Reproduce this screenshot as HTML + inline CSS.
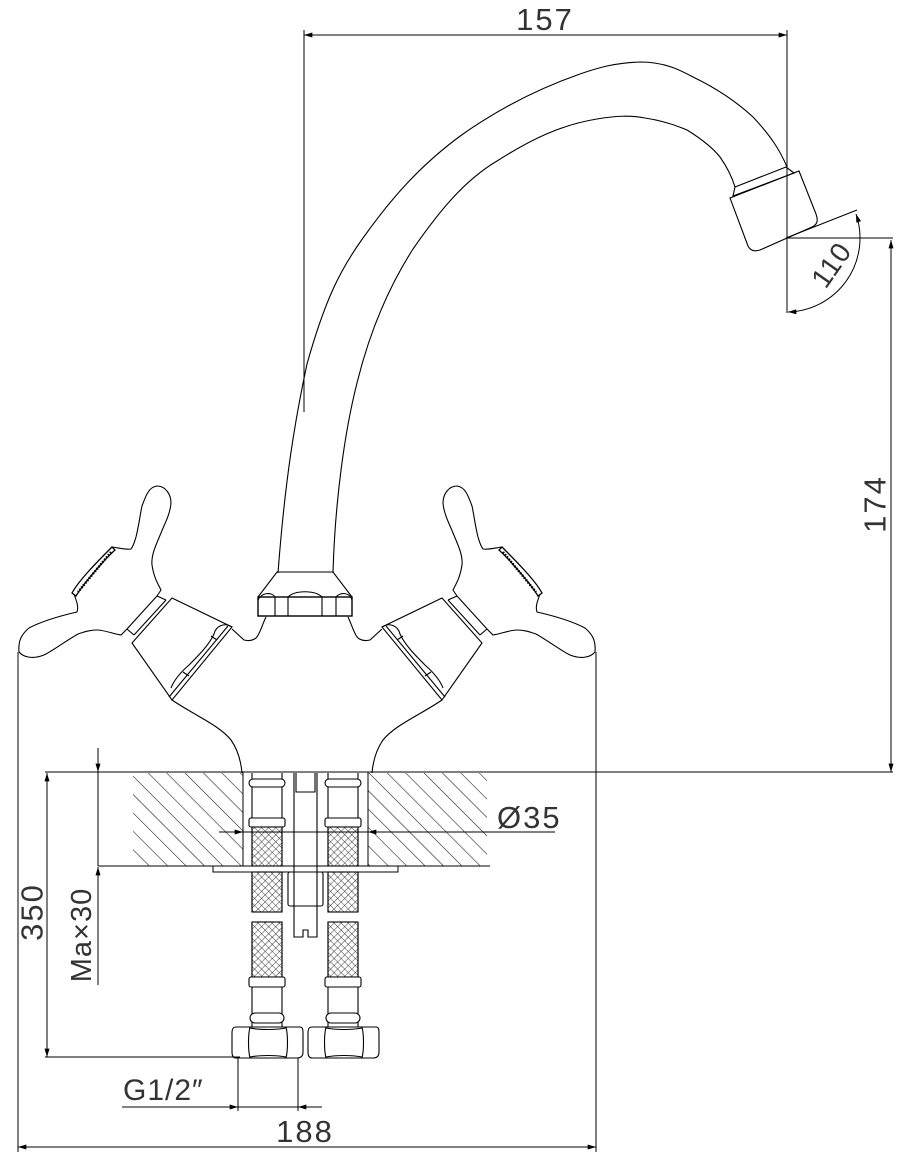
<!DOCTYPE html>
<html><head><meta charset="utf-8"><style>
html,body{margin:0;padding:0;background:#fff}
svg{display:block}
text{font-family:"Liberation Sans",sans-serif;fill:#333;font-weight:normal}
</style></head><body>
<svg width="902" height="1162" viewBox="0 0 902 1162" xmlns="http://www.w3.org/2000/svg">
<defs>
<pattern id="hatch" patternUnits="userSpaceOnUse" width="13" height="13" patternTransform="rotate(-45)">
<line x1="0" y1="0" x2="0" y2="13" stroke="#111" stroke-width="1.1"/>
</pattern>
<pattern id="braid" patternUnits="userSpaceOnUse" width="5" height="5" patternTransform="rotate(45)">
<line x1="0" y1="0" x2="0" y2="5" stroke="#111" stroke-width="0.8"/>
<line x1="0" y1="0" x2="5" y2="0" stroke="#111" stroke-width="0.8"/>
</pattern>
<marker id="ar" viewBox="0 0 10 6" refX="10" refY="3" markerWidth="12" markerHeight="5" markerUnits="userSpaceOnUse" orient="auto">
<path d="M0,0 L10,3 L0,6 z" fill="#000"/>
</marker>
<marker id="as" viewBox="0 0 10 6" refX="0" refY="3" markerWidth="12" markerHeight="5" markerUnits="userSpaceOnUse" orient="auto">
<path d="M10,0 L0,3 L10,6 z" fill="#000"/>
</marker>
<g id="handle" fill="none" stroke="#000" stroke-width="1.1">
  <path d="M595,652 C596,640 592,634 585,628 C570,620 550,615 537,612 C535,606 538,600 540,594 M502,547 C495,548 488,550 483,549 C480,545 479,540 478,537 C475,525 474,515 472,506 C468,495 465,487 457,486 C448,486 443,495 443,503 C444,515 450,525 453,533 C458,545 463,555 462,565 C460,578 456,584 453,590 L457,596 M487,629 L493,635 C500,634 510,630 517,630 C525,630 530,632 536,634 C550,642 560,650 570,655 C580,659 590,658 595,652"/>
  <path d="M502,547 C515,560 535,580 542,593 L538,596 C530,583 510,560 499,550 Z" stroke-width="1.3"/>
  <path d="M503,552 L536,592" stroke-width="2.5" stroke-dasharray="1.5 1.5"/>
  <path d="M457,596 L487,629 M448,600 L480,635 M448,600 L457,596 M480,635 L487,629"/>
  <path d="M442,598 L382,627 L442,700 L482,643 Z"/>
  <path d="M386,626 L445,697"/>
  <path d="M382,627 C390,622 398,626 400,634 C405,645 415,655 425,665 C433,672 440,680 443,688"/>
  <path d="M397,640 L403,636 M425,676 L431,672"/>
  <path d="M442,700 C420,715 395,725 383,740 C376,750 373,762 372,773"/>
  <path d="M348,617 C352,625 354,634 358,638 C362,641 366,641 370,640 L382,629"/>
</g>
</defs>

<line x1="304" y1="35" x2="787" y2="35" stroke="#000" stroke-width="1" marker-start="url(#as)" marker-end="url(#ar)"/>
<line x1="304" y1="30" x2="304" y2="412" stroke="#000" stroke-width="1"/>
<line x1="787" y1="30" x2="787" y2="313" stroke="#000" stroke-width="1"/>
<text x="545" y="30" font-size="31" text-anchor="middle" letter-spacing="2">157</text>

<path d="M278,573 C285,480 295,420 307,364 C325,300 340,270 363,238 C390,200 420,165 463,134 C500,108 540,88 580,74 C600,67 615,63 640,62 C665,62 680,70 693,77 C720,90 740,105 753,117 C770,135 780,150 787,167" fill="none" stroke="#000" stroke-width="1.1"/>
<path d="M333,573 C335,500 345,430 357,383 C370,330 390,285 413,249 C440,210 465,180 497,161 C530,140 560,125 597,119 C615,116 630,115 645,118 C665,121 680,127 687,130 C700,138 712,147 720,157 C727,167 732,177 735,187" fill="none" stroke="#000" stroke-width="1.1"/>
<path d="M735,187 L786,167 L794,173 L733,196 Z" fill="none" stroke="#000" stroke-width="1.1"/>
<path d="M730,198 L799,171 L816,214 C819,222 816,225 812,227 L760,250 C754,252 750,250 748,246 Z" fill="none" stroke="#000" stroke-width="1.1"/>
<line x1="786" y1="238" x2="857" y2="210" stroke="#000" stroke-width="1"/>
<line x1="786" y1="238" x2="893" y2="238" stroke="#000" stroke-width="1"/>
<path d="M856,214 A74,74 0 0 1 788,312" fill="none" stroke="#000" stroke-width="1" marker-start="url(#as)" marker-end="url(#ar)"/>
<text x="836" y="272" font-size="28" text-anchor="middle" transform="rotate(-55 836 268)" letter-spacing="1">110</text>

<line x1="891" y1="240" x2="891" y2="772" stroke="#000" stroke-width="1" marker-start="url(#as)" marker-end="url(#ar)"/>
<text x="875" y="504" font-size="31" text-anchor="middle" dominant-baseline="central" transform="rotate(-90 875 504)" letter-spacing="2">174</text>

<g fill="none" stroke="#000" stroke-width="1.1">
<path d="M258,597 L277,572 L333,572 L352,597"/>
<rect x="258" y="597" width="94" height="19" stroke-width="1.4"/>
<path d="M275,597 V616 M288,597 V616 M322,597 V616 M336,597 V616"/>
<path d="M258,600 C262,592 272,592 275,597 M288,597 C295,590 315,590 322,597 M336,597 C340,592 350,592 352,600"/>
</g>

<use href="#handle"/>
<use href="#handle" transform="translate(614,0) scale(-1,1)"/>

<line x1="18" y1="652" x2="18" y2="1152" stroke="#000" stroke-width="1"/>
<line x1="596" y1="652" x2="596" y2="1152" stroke="#000" stroke-width="1"/>

<rect x="133" y="773" width="110" height="93" fill="url(#hatch)"/>
<rect x="368" y="773" width="119" height="93" fill="url(#hatch)"/>
<line x1="45" y1="772" x2="893" y2="772" stroke="#000" stroke-width="1"/>
<line x1="98" y1="866" x2="490" y2="866" stroke="#000" stroke-width="1"/>
<line x1="243" y1="772" x2="243" y2="866" stroke="#000" stroke-width="1"/>
<line x1="368" y1="772" x2="368" y2="866" stroke="#000" stroke-width="1"/>
<rect x="213" y="866" width="185" height="6" fill="#fff" stroke="#000" stroke-width="1"/>

<g fill="none" stroke="#000" stroke-width="1.1">
  <g id="pipeL">
    <path d="M252,773 V818 M282,773 V818"/>
    <rect x="249" y="779" width="36" height="8" rx="4" fill="#fff"/>
    <rect x="249" y="818" width="36" height="9" rx="2" fill="#fff"/>
    <rect x="252" y="827" width="30" height="39" fill="url(#braid)"/>
    <rect x="252" y="872" width="30" height="40" fill="url(#braid)"/>
    <rect x="252" y="922" width="30" height="55" fill="url(#braid)"/>
    <path d="M252,827 V866 M282,827 V866 M252,872 V912 M282,872 V912 M252,922 V977 M282,922 V977"/>
    <rect x="249" y="977" width="36" height="10" rx="2" fill="#fff"/>
    <path d="M252,987 V1027 M282,987 V1027"/>
    <rect x="250" y="1013" width="34" height="10" rx="5" fill="#fff"/>
    <path d="M236,1027 H300 C303,1027 303,1030 303,1035 V1052 C303,1057 300,1058 297,1058 H236 C233,1058 232,1055 232,1052 V1033 C232,1029 233,1027 236,1027 Z" fill="#fff"/>
    <path d="M250,1027 C248,1035 248,1050 250,1058 M286,1027 C288,1035 288,1050 286,1058 M250,1028 C260,1030 276,1030 286,1028 M250,1057 C260,1055 276,1055 286,1057"/>
  </g>
  <use href="#pipeL" transform="translate(76,0)"/>
  <path d="M294,773 V937 H303 V930 H308 V937 H317 V773"/>
  <path d="M296,773 V792 H315 V773"/>
  <rect x="288" y="872" width="35" height="34" rx="2" fill="#fff"/>
  <path d="M294,872 V906 M317,872 V906"/>
</g>

<line x1="219" y1="832" x2="243" y2="832" stroke="#000" stroke-width="1" marker-end="url(#ar)"/>
<line x1="243" y1="832" x2="368" y2="832" stroke="#000" stroke-width="1"/>
<line x1="368" y1="832" x2="555" y2="832" stroke="#000" stroke-width="1" marker-start="url(#as)"/>
<text x="497" y="828" font-size="31" letter-spacing="2">Ø35</text>

<line x1="47" y1="773" x2="47" y2="1057" stroke="#000" stroke-width="1" marker-start="url(#as)" marker-end="url(#ar)"/>
<line x1="45" y1="1057" x2="240" y2="1057" stroke="#000" stroke-width="1"/>
<text x="32" y="912" font-size="31" text-anchor="middle" dominant-baseline="central" transform="rotate(-90 32 912)" letter-spacing="2">350</text>

<line x1="98" y1="748" x2="98" y2="772" stroke="#000" stroke-width="1" marker-end="url(#ar)"/>
<line x1="98" y1="772" x2="98" y2="866" stroke="#000" stroke-width="1"/>
<line x1="98" y1="985" x2="98" y2="867" stroke="#000" stroke-width="1" marker-end="url(#ar)"/>
<text x="82" y="935" font-size="29" text-anchor="middle" dominant-baseline="central" transform="rotate(-90 82 935)" letter-spacing="1">Ma×30</text>

<line x1="238" y1="1058" x2="238" y2="1111" stroke="#000" stroke-width="1"/>
<line x1="298" y1="1058" x2="298" y2="1111" stroke="#000" stroke-width="1"/>
<line x1="122" y1="1107" x2="238" y2="1107" stroke="#000" stroke-width="1" marker-end="url(#ar)"/>
<line x1="238" y1="1107" x2="298" y2="1107" stroke="#000" stroke-width="1"/>
<line x1="322" y1="1107" x2="298" y2="1107" stroke="#000" stroke-width="1" marker-end="url(#ar)"/>
<text x="123" y="1100" font-size="30" letter-spacing="1">G1/2″</text>

<line x1="18" y1="1147" x2="596" y2="1147" stroke="#000" stroke-width="1" marker-start="url(#as)" marker-end="url(#ar)"/>
<text x="305" y="1142" font-size="31" text-anchor="middle" letter-spacing="2">188</text>
</svg>
</body></html>
